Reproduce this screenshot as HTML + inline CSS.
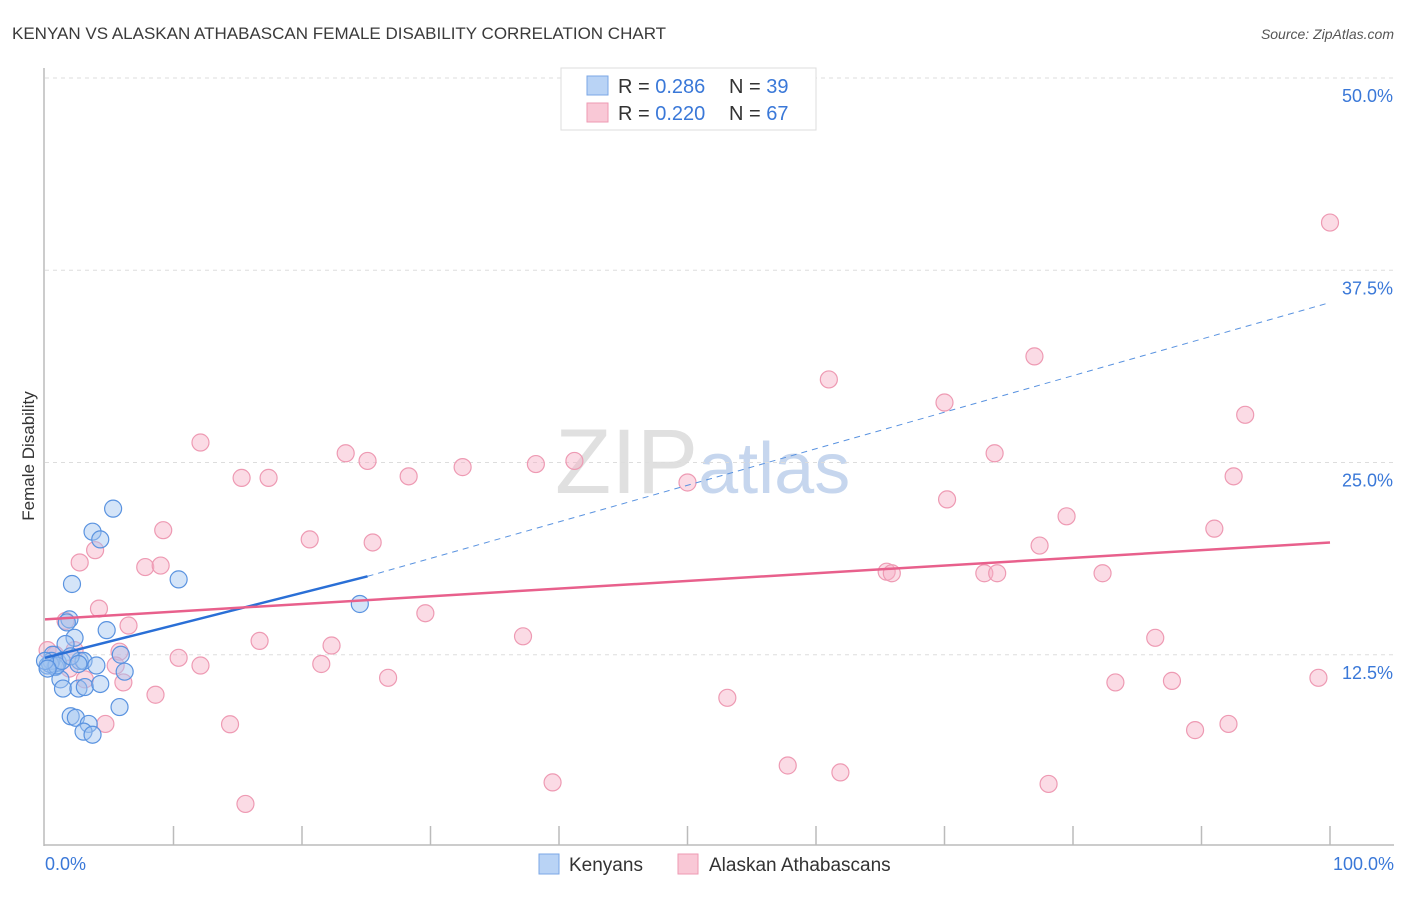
<!DOCTYPE html>
<html><head><meta charset="utf-8"><style>
body{margin:0;background:#fff;font-family:"Liberation Sans",sans-serif;}
svg text{font-family:"Liberation Sans",sans-serif;}
</style></head><body>
<svg id="chart" width="1406" height="892" xmlns="http://www.w3.org/2000/svg">
<text x="12" y="39" font-size="17" fill="#3a3a3a">KENYAN VS ALASKAN ATHABASCAN FEMALE DISABILITY CORRELATION CHART</text>
<text x="1394" y="39" font-size="14" fill="#555" font-style="italic" text-anchor="end">Source: ZipAtlas.com</text>
<text x="555" y="493" font-size="92" font-family="Liberation Serif" fill="#d9d9d9" opacity="0.8">ZIP<tspan fill="#b8cdea" font-family="Liberation Sans" font-size="72">atlas</tspan></text>
<g id="grid"></g>
<g id="axes"></g>
<g id="pts"></g>
<g id="trend"></g>
<text transform="translate(34,456) rotate(-90)" font-size="17" fill="#333" text-anchor="middle">Female Disability</text>
<g>
<rect x="561" y="68" width="255" height="62" fill="#fff" stroke="#ddd"/>
<rect x="587" y="76" width="21" height="19" fill="#b9d3f5" stroke="#7ba7e6"/>
<rect x="587" y="103" width="21" height="19" fill="#f9c8d6" stroke="#ee9ab3"/>
<text x="618" y="93" font-size="20" fill="#333">R = <tspan fill="#3a78d8">0.286</tspan><tspan x="729">N = </tspan><tspan fill="#3a78d8">39</tspan></text>
<text x="618" y="120" font-size="20" fill="#333">R = <tspan fill="#3a78d8">0.220</tspan><tspan x="729">N = </tspan><tspan fill="#3a78d8">67</tspan></text>
</g>
<g>
<rect x="539" y="854" width="20" height="20" fill="#b9d3f5" stroke="#7ba7e6"/>
<text x="569" y="871" font-size="19" fill="#333">Kenyans</text>
<rect x="678" y="854" width="20" height="20" fill="#f9c8d6" stroke="#ee9ab3"/>
<text x="709" y="871" font-size="19" fill="#333">Alaskan Athabascans</text>
</g>
</svg>
<script>
const yTicks=[12.5,25,37.5,50];
const yTickLabels=["12.5%","25.0%","37.5%","50.0%"];
const xTickCount=10;
const blueX=[5.3,3.7,4.3,2.1,10.4,24.5,1.9,1.7,4.8,2.3,1.6,0.6,1.0,0.2,0.8,2.7,3.0,4.0,6.2,1.2,1.4,2.6,3.1,4.3,5.8,2.0,2.4,3.4,3.0,3.7,0.5,0.4,0.9,1.3,2.0,0.0,0.2,5.9,2.6];
const blueY=[22.0,20.5,20.0,17.1,17.4,15.8,14.8,14.6,14.1,13.6,13.2,12.5,12.0,11.8,11.7,12.1,12.1,11.8,11.4,10.9,10.3,10.3,10.4,10.6,9.1,8.5,8.4,8.0,7.5,7.3,12.1,11.9,11.8,12.1,12.4,12.1,11.6,12.5,11.9];
const pinkX=[100,77,61,70,93.4,12.1,23.4,25.1,73.9,32.5,38.2,41.2,15.3,17.4,28.3,50,92.5,70.2,79.5,9.2,91,20.6,25.5,77.4,3.9,2.7,7.8,9,65.5,65.9,73.1,74.1,82.3,4.2,29.6,1.6,6.5,16.7,22.3,37.2,86.4,0.2,0.8,5.8,10.4,5.5,12.1,21.5,26.7,6.1,83.3,87.7,99.1,8.6,53.1,4.7,14.4,89.5,92.1,57.8,61.9,39.5,78.1,15.6,2.3,1.9,3.1];
const pinkY=[40.6,31.9,30.4,28.9,28.1,26.3,25.6,25.1,25.6,24.7,24.9,25.1,24.0,24.0,24.1,23.7,24.1,22.6,21.5,20.6,20.7,20.0,19.8,19.6,19.3,18.5,18.2,18.3,17.9,17.8,17.8,17.8,17.8,15.5,15.2,14.7,14.4,13.4,13.1,13.7,13.6,12.8,12.5,12.7,12.3,11.8,11.8,11.9,11.0,10.7,10.7,10.8,11.0,9.9,9.7,8.0,7.98,7.6,8.0,5.3,4.85,4.2,4.1,2.8,12.8,11.6,10.9];
const blueTrend=[[0,12.3],[25.1,17.6],[100,35.4]];
const pinkTrend=[[0,14.8],[100,19.8]];
const NS="http://www.w3.org/2000/svg";
const X0=45,X1=1330,Y0=847,Y50=78;
const sx=v=>X0+(X1-X0)*v/100;
const sy=v=>Y0-(Y0-Y50)*v/50;
function mk(p,t,a){const e=document.createElementNS(NS,t);for(const k in a)e.setAttribute(k,a[k]);p.appendChild(e);return e;}
const grid=document.getElementById('grid'),axes=document.getElementById('axes'),pts=document.getElementById('pts'),trend=document.getElementById('trend');
yTicks.forEach((v,i)=>{
 const l=mk(grid,'line',{x1:45,x2:1394,y1:sy(v),y2:sy(v),stroke:'#ddd','stroke-dasharray':'4,4'});
 
 
 const t=mk(grid,'text',{x:1393,y:sy(v)+24,'font-size':18,fill:'#3a78d8','text-anchor':'end'});
 t.textContent=yTickLabels[i];
 
 
});
mk(axes,'line',{x1:44,x2:44,y1:68,y2:846,stroke:'#bbb','stroke-width':1.5});
mk(axes,'line',{x1:44,x2:1394,y1:845,y2:845,stroke:'#bbb','stroke-width':1.5});
for(let i=1;i<=xTickCount;i++){const x=sx(i*100/xTickCount);const t=mk(axes,'line',{x1:x,x2:x,y1:826,y2:845,stroke:'#bbb','stroke-width':1.5});
 
 }
let t0=mk(axes,'text',{x:45,y:870,'font-size':18,fill:'#3a78d8'});t0.textContent='0.0%';

let t1=mk(axes,'text',{x:1394,y:870,'font-size':18,fill:'#3a78d8','text-anchor':'end'});t1.textContent='100.0%';

pinkX.forEach((x,i)=>{const c=mk(pts,'circle',{cx:sx(x),cy:sy(pinkY[i]),r:8.5,fill:'rgba(246,176,198,0.45)',stroke:'#ee9ab3','stroke-width':1.2});
 
 });
blueX.forEach((x,i)=>{const c=mk(pts,'circle',{cx:sx(x),cy:sy(blueY[i]),r:8.5,fill:'rgba(160,196,240,0.45)',stroke:'#5a93e0','stroke-width':1.2});
 
 });
let b1=mk(trend,'line',{x1:sx(blueTrend[0][0]),y1:sy(blueTrend[0][1]),x2:sx(blueTrend[1][0]),y2:sy(blueTrend[1][1]),stroke:'#2a6fd6','stroke-width':2.5});

let b2=mk(trend,'line',{x1:sx(blueTrend[1][0]),y1:sy(blueTrend[1][1]),x2:sx(blueTrend[2][0]),y2:sy(blueTrend[2][1]),stroke:'#5a93e0','stroke-width':1,'stroke-dasharray':'6,5'});

let p1=mk(trend,'line',{x1:sx(pinkTrend[0][0]),y1:sy(pinkTrend[0][1]),x2:sx(pinkTrend[1][0]),y2:sy(pinkTrend[1][1]),stroke:'#e8608c','stroke-width':2.5});

</script>
</body></html>
